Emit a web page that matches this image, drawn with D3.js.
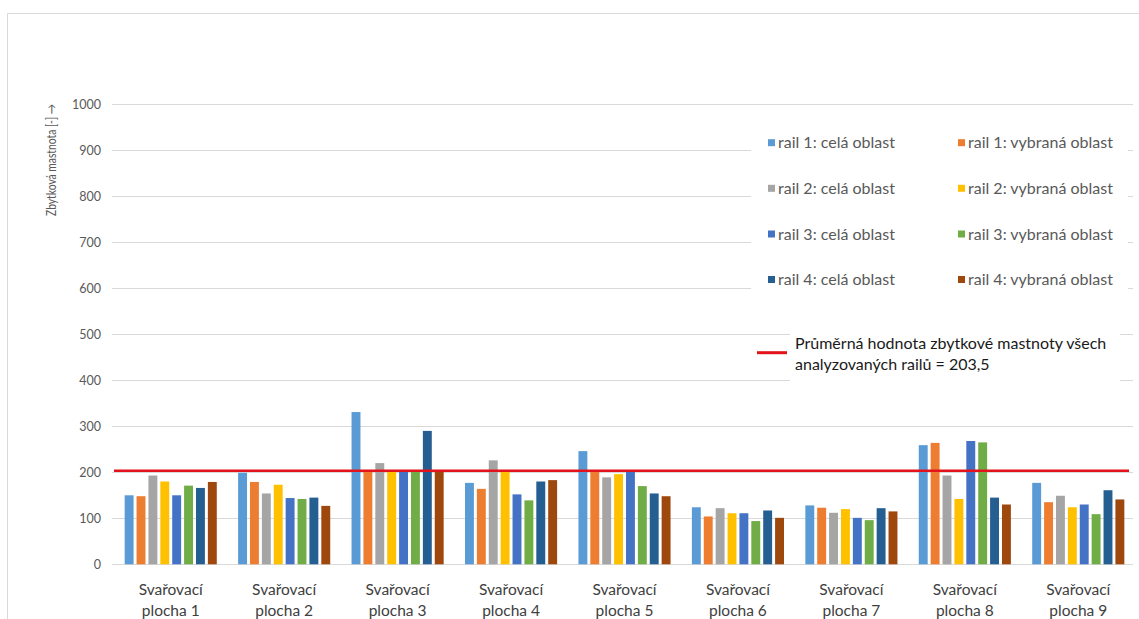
<!DOCTYPE html>
<html>
<head>
<meta charset="utf-8">
<script src="https://cdn.jsdelivr.net/npm/d3@7"></script>
<style>
  html, body { margin: 0; padding: 0; background: #fff; }
  svg { display: block; font-family: Lato, "Open Sans", sans-serif; }
</style>
</head>
<body>
<svg id="chart" width="1139" height="619"></svg>
<script>
// Welding areas on the x axis
const categories = ["Svařovací plocha 1", "Svařovací plocha 2", "Svařovací plocha 3",
  "Svařovací plocha 4", "Svařovací plocha 5", "Svařovací plocha 6",
  "Svařovací plocha 7", "Svařovací plocha 8", "Svařovací plocha 9"];

// Series names (legend order)
const seriesNames = ["rail 1: celá oblast", "rail 1: vybraná oblast",
  "rail 2: celá oblast", "rail 2: vybraná oblast",
  "rail 3: celá oblast", "rail 3: vybraná oblast",
  "rail 4: celá oblast", "rail 4: vybraná oblast"];

const seriesColors = ["#5b9bd5", "#ed7d31", "#a5a5a5", "#ffc000",
  "#4472c4", "#70ad47", "#255e91", "#9e480e"];

// Residual grease values per series, one per welding area
const rail1Cela    = [150, 199, 331, 177, 246, 124, 128, 259, 177];
const rail1Vybrana = [148, 179, 205, 164, 202, 104, 123, 264, 135];
const rail2Cela    = [193, 154, 220, 226, 189, 122, 112, 193, 149];
const rail2Vybrana = [180, 173, 203, 203, 196, 111, 120, 142, 124];
const rail3Cela    = [150, 144, 201, 152, 203, 111, 101, 268, 130];
const rail3Vybrana = [171, 142, 201, 139, 170,  94,  96, 265, 109];
const rail4Cela    = [166, 145, 290, 180, 154, 117, 122, 145, 161];
const rail4Vybrana = [179, 127, 203, 183, 148, 101, 115, 130, 141];

const seriesValues = [rail1Cela, rail1Vybrana, rail2Cela, rail2Vybrana,
  rail3Cela, rail3Vybrana, rail4Cela, rail4Vybrana];

// Average over all analysed rails
const averageValue = 203.5;
const averageLabel = ["Průměrná hodnota zbytkové mastnoty všech", "analyzovaných railů = 203,5"];

const yTicks = [0, 100, 200, 300, 400, 500, 600, 700, 800, 900, 1000];
const yTitle = "Zbytková mastnota [-] →";

const svg = d3.select("#chart");

// Outer chart frame (top and left edges)
svg.append("path")
  .attr("d", "M7.5,619 L7.5,13.5 L1139,13.5")
  .attr("fill", "none").attr("stroke", "#d9d9d9").attr("stroke-width", 1);

const plot = { left: 114, right: 1135, top: 104.3, bottom: 564.3 };

const x0 = d3.scaleBand().domain(categories).range([plot.left, plot.right]);
const groupPad = x0.bandwidth() * 0.094;
const x1 = d3.scaleBand().domain(seriesNames)
  .range([groupPad, x0.bandwidth() - groupPad]).paddingInner(0.25);
const y = d3.scaleLinear().domain([0, 1000]).range([plot.bottom, plot.top]);

// Gridlines
svg.append("g").selectAll("line").data(yTicks).join("line")
  .attr("x1", plot.left - 2).attr("x2", plot.right - 2)
  .attr("y1", d => Math.round(y(d)) + 0.5).attr("y2", d => Math.round(y(d)) + 0.5)
  .attr("stroke", "#d9d9d9").attr("stroke-width", 1);

// Y axis labels
const yAxis = d3.axisLeft(y).tickValues(yTicks).tickSize(0).tickPadding(0).tickFormat(d3.format("d"));
svg.append("g").attr("transform", `translate(101,0)`).call(yAxis)
  .call(g => g.select(".domain").remove())
  .call(g => g.selectAll("text").attr("fill", "#595959").attr("font-size", 12.5)
    .attr("font-family", "Lato, sans-serif"));

// Y axis title
svg.append("text")
  .attr("transform", "translate(56,104) rotate(-90)")
  .attr("text-anchor", "end")
  .attr("fill", "#595959").attr("font-size", 12.5)
  .attr("textLength", 112).attr("lengthAdjust", "spacingAndGlyphs")
  .text(yTitle);

// Bars
const groups = svg.append("g").selectAll("g").data(categories).join("g")
  .attr("transform", d => `translate(${x0(d)},0)`);
groups.selectAll("rect")
  .data((c, ci) => seriesNames.map((s, si) => ({ s, si, v: seriesValues[si][ci] })))
  .join("rect")
  .attr("x", d => x1(d.s))
  .attr("width", x1.bandwidth())
  .attr("y", d => y(d.v))
  .attr("height", d => y(0) - y(d.v))
  .attr("fill", d => seriesColors[d.si]);

// Category labels (two lines)
const xAxis = d3.axisBottom(x0).tickSize(0).tickFormat("");
svg.append("g").attr("transform", `translate(0,${plot.bottom})`).call(xAxis)
  .call(g => g.select(".domain").remove());
const catLabels = svg.append("g").selectAll("text").data(categories).join("text")
  .attr("x", d => x0(d) + x0.bandwidth() / 2)
  .attr("text-anchor", "middle")
  .attr("fill", "#404040").attr("font-size", 15.5);
catLabels.append("tspan").attr("x", d => x0(d) + x0.bandwidth() / 2).attr("y", 595)
  .text(d => d.split(" ").slice(0, 1).join(" "));
catLabels.append("tspan").attr("x", d => x0(d) + x0.bandwidth() / 2).attr("y", 616)
  .text(d => d.split(" ").slice(1).join(" "));

// Average line
svg.append("line")
  .attr("x1", plot.left).attr("x2", 1129)
  .attr("y1", y(averageValue)).attr("y2", y(averageValue))
  .attr("stroke", "#e3121b").attr("stroke-width", 2.5);

// Legend for bars
svg.append("rect").attr("x", 751).attr("y", 124).attr("width", 377).attr("height", 178).attr("fill", "#fff");
const legendCols = [768, 958];
const legendRows = [142.7, 188.3, 234, 279.5];
const leg = svg.append("g").selectAll("g").data(seriesNames).join("g")
  .attr("transform", (d, i) => `translate(${legendCols[i % 2]},${legendRows[Math.floor(i / 2)]})`);
leg.append("rect").attr("x", 0).attr("y", -3.5).attr("width", 7).attr("height", 7)
  .attr("fill", (d, i) => seriesColors[i]);
leg.append("text").attr("x", 10).attr("y", 5.5)
  .attr("fill", "#595959").attr("font-size", 16)
  .text(d => d);

// Legend for average line
svg.append("rect").attr("x", 790).attr("y", 324).attr("width", 330).attr("height", 62).attr("fill", "#fff");
svg.append("line").attr("x1", 757).attr("x2", 787).attr("y1", 352.7).attr("y2", 352.7)
  .attr("stroke", "#e3121b").attr("stroke-width", 3);
svg.append("text").attr("fill", "#1a1a1a").attr("font-size", 16)
  .selectAll("tspan").data(averageLabel).join("tspan")
  .attr("x", 795).attr("y", (d, i) => 348.5 + i * 21)
  .text(d => d);
</script>
</body>
</html>
